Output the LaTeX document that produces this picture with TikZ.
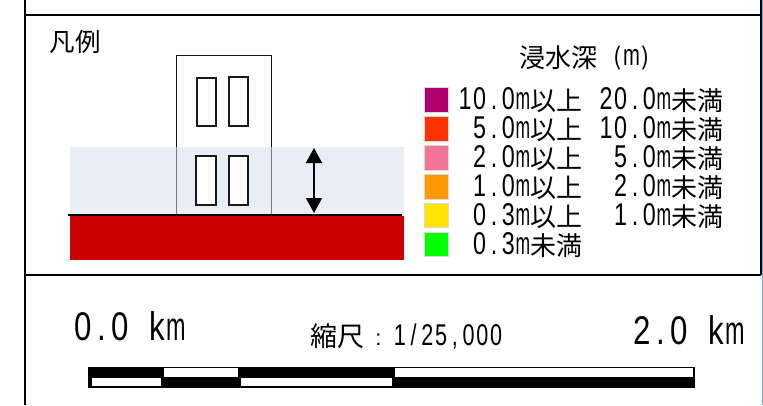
\documentclass[tikz,border=0pt]{standalone}
\usepackage{fontspec}
\usepackage{graphicx}
\setmainfont{Liberation Sans}
\newfontfamily\cjk{Noto Sans CJK JP}
\usetikzlibrary{arrows.meta}
\newlength{\hww}
\newcommand\hwend{\relax}
\def\hwcell#1{\ifx#1m\makebox[\hww][c]{\scalebox{\hwsm}[1]{#1}}\else\makebox[\hww][c]{\scalebox{\hwsx}[1]{#1}}\fi}
\def\hwloop#1{\ifx#1\hwend\else\hwcell{#1}\expandafter\hwloop\fi}
% latin text, one fixed-width cell per character: \hw{cell width}{x-scale}{size}{text}
\newcommand\hw[4]{\setlength{\hww}{#1pt}\def\hwsx{#2}\pgfmathsetmacro\hwsm{#2*.75}\fontsize{#3}{#3}\selectfont\hwloop#4\hwend}
\newcommand\cj[2]{{\fontsize{#1}{#1}\cjk #2}}
\newcommand\lgrow[2]{\hw{14.4}{.74}{31.5}{#1}\raisebox{-1pt}{\cj{26}{#2}}}
\definecolor{c1}{HTML}{B0006B}
\definecolor{c2}{HTML}{FF3300}
\definecolor{c3}{HTML}{F07598}
\definecolor{c4}{HTML}{FF9900}
\definecolor{c5}{HTML}{FFE600}
\definecolor{c6}{HTML}{00FF00}
\definecolor{water}{HTML}{D5DFEF}
\definecolor{land}{HTML}{CC0000}
\definecolor{edge}{HTML}{6FA8DC}
\tikzset{
  frameln/.style={draw=black,line width=1.6pt},
  win/.style={draw=black!90,fill=white,line width=2pt},
  swatch/.style={minimum width=23.5pt,minimum height=24.5pt,inner sep=0,draw=white!85!black,line width=.4pt,anchor=north west},
  txt/.style={inner sep=0,outer sep=0},
  lgl/.style={txt,anchor=base east},
  barw/.style={fill=white,draw=none}
}
\begin{document}
\begin{tikzpicture}[x=1pt,y=-1pt]
\useasboundingbox (0,0) rectangle (763,405);
\fill[white] (0,0) rectangle (763,405);
% frame
\coordinate (tl) at (25,0); \coordinate (bl) at (25,405);
\coordinate (tr) at (761,0); \coordinate (mr) at (761,275);
\coordinate (er) at (762.5,0); \coordinate (es) at (762.5,405);
\coordinate (h1l) at (25,15); \coordinate (h1r) at (761,15);
\coordinate (h2l) at (25,275); \coordinate (h2r) at (761,275);
\draw[edge,line width=1pt] (er) -- (es);
\draw[frameln] (tl) -- (bl);
\draw[frameln] (tr) -- (mr);
\draw[frameln] (h1l) -- (h1r);
\draw[frameln] (h2l) -- (h2r);
% building
\node[txt,anchor=west] (lgd) at (49.5,42) {\cj{25.5}{凡例}};
\draw[draw=black!90,fill=white,line width=1.9pt] (176.5,55.5) rectangle (271.5,215);
\draw[win] (196.5,77.5) rectangle (216,126);
\draw[win] (228.5,77) rectangle (248,126);
\fill[water,opacity=.5] (70,147) rectangle (404,215);
\draw[win] (196,156) rectangle (215.5,205);
\draw[win] (228.5,155.5) rectangle (247.5,204.5);
\fill[land] (70,216) rectangle (404,260);
\coordinate (g1) at (68,215); \coordinate (g2) at (402,215);
\draw[black,line width=1.6pt] (g1) -- (g2);
\coordinate (a1) at (314,148); \coordinate (a2) at (314,213);
\draw[line width=1.5pt,{Triangle[length=15pt,width=16pt]}-{Triangle[length=15pt,width=16pt]}] (a1) -- (a2);
% legend
\node[txt,anchor=west] (t1) at (519.5,58) {\cj{26}{浸水深}};
\node[txt,anchor=center] (t2) at (631.5,58) {\cj{24}{(}\hspace{1pt}\hw{17}{.9}{30}{m}\hspace{1pt}\cj{24}{)}};
\node[swatch,fill=c1] (s1) at (424,87) {};
\node[swatch,fill=c2] (s2) at (424,116) {};
\node[swatch,fill=c3] (s3) at (424,145) {};
\node[swatch,fill=c4] (s4) at (424,174) {};
\node[swatch,fill=c5] (s5) at (424,202.5) {};
\node[swatch,fill=c6] (s6) at (424,231.5) {};
\node[lgl] (l1) at (582,109.5) {\lgrow{10.0m}{以上}};
\node[lgl] (r1) at (723,109.5) {\lgrow{20.0m}{未満}};
\node[lgl] (l2) at (582,138.5) {\lgrow{5.0m}{以上}};
\node[lgl] (r2) at (723,138.5) {\lgrow{10.0m}{未満}};
\node[lgl] (l3) at (582,167.5) {\lgrow{2.0m}{以上}};
\node[lgl] (r3) at (723,167.5) {\lgrow{5.0m}{未満}};
\node[lgl] (l4) at (582,196.5) {\lgrow{1.0m}{以上}};
\node[lgl] (r4) at (723,196.5) {\lgrow{2.0m}{未満}};
\node[lgl] (l5) at (582,225.5) {\lgrow{0.3m}{以上}};
\node[lgl] (r5) at (723,225.5) {\lgrow{1.0m}{未満}};
\node[lgl] (l6) at (582,254.5) {\lgrow{0.3m}{未満}};
% scale
\node[txt,anchor=base west] (k0) at (74,340) {\hw{18.5}{.78}{40}{0.0}\hspace{18.5pt}\hw{18.5}{.78}{40}{km}};
\node[txt,anchor=base east] (k2) at (744,344) {\hw{18.5}{.78}{40}{2.0}\hspace{18.5pt}\hw{18.5}{.78}{40}{km}};
\node[txt,anchor=base west] (sc) at (310,345) {\raisebox{-1pt}{\cj{27}{縮尺}}\makebox[29pt][c]{\fontsize{22}{22}\selectfont :}\hw{13.75}{.72}{30}{1/25,000}};
% scale bar
\fill[black] (87.5,366.5) rectangle (695,388);
\fill[barw] (164,368) rectangle (237.5,376.5);
\fill[barw] (395,368) rectangle (692.5,376.5);
\fill[barw] (91.5,377.5) rectangle (160.5,386);
\fill[barw] (241,377.5) rectangle (392,386);
\end{tikzpicture}
\end{document}
